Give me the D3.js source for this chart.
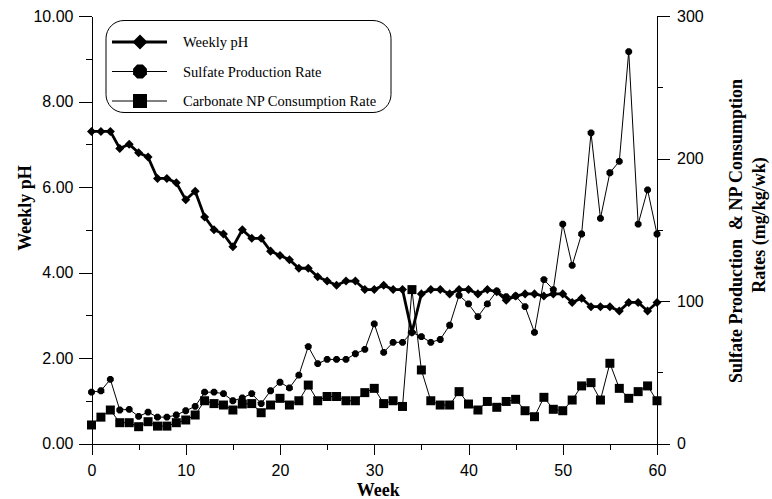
<!DOCTYPE html>
<html>
<head>
<meta charset="utf-8">
<script src="https://cdn.jsdelivr.net/npm/d3@7"></script>
<style>
  body { margin: 0; background: #fff; }
  .tick text { font-family: "Liberation Sans", Arial, sans-serif; font-size: 16px; fill: #000; }
  .axis path, .axis line { stroke: #000; shape-rendering: crispEdges; }
  .title { font-family: "Liberation Serif", "Times New Roman", serif; font-weight: bold; font-size: 18px; }
  .legendText { font-family: "Liberation Serif", "Times New Roman", serif; font-size: 14.5px; }
</style>
</head>
<body>
<div id="chart"></div>
<script>
// week numbers
const weeks = [0,1,2,3,4,5,6,7,8,9,10,11,12,13,14,15,16,17,18,19,20,
  21,22,23,24,25,26,27,28,29,30,31,32,33,34,35,36,37,38,39,40,
  41,42,43,44,45,46,47,48,49,50,51,52,53,54,55,56,57,58,59,60];

// weekly pH (left axis)
const weeklyPH = [7.3,7.3,7.3,6.9,7.0,6.8,6.7,6.2,6.2,6.1,
  5.7,5.9,5.3,5.0,4.9,4.6,5.0,4.8,4.8,4.5,
  4.4,4.3,4.1,4.1,3.9,3.8,3.7,3.8,3.8,3.6,
  3.6,3.7,3.6,3.6,2.6,3.5,3.6,3.6,3.5,3.6,
  3.6,3.5,3.6,3.55,3.35,3.45,3.5,3.5,3.45,3.5,
  3.5,3.3,3.4,3.2,3.2,3.2,3.1,3.3,3.3,3.1,3.3];

// sulfate production rate, mg/kg/wk (right axis)
const sulfateRate = [36,37,45,23.5,24,19,22,18.5,18.5,20,
  23,26,36,36,35,30,32,35,28,37,
  43,39,48,68,56,59,59,59,63,66,
  84,64,71,71,78,75,71,73,83,104,
  98,89,98,107,103,103.5,96,78,115,108,
  154,125,147,218,158,190,198,275,154,178,147];

// carbonate NP consumption rate, mg/kg/wk (right axis)
const npRate = [13,18.5,23.5,14.6,14.6,11.8,15.3,12.2,12.2,14.6,
  16.5,20,30,28,27,23.5,27.7,28,21.6,27,
  31.7,27,30,41,30,33,33,30,30,35.7,
  38.7,28,30,26,108,51.6,30,27,27,36.4,
  27.7,23.5,29.5,25.4,29.5,31,23,18.8,32.4,24,
  23,30.5,40.4,42.7,30.5,56.3,38.7,31.7,36.4,40.4,30];

const phTicks = [0,2,4,6,8,10];
const phMinor = [1,3,5,7,9];
const rateTicks = [0,100,200,300];
const rateMinor = [50,150,250];
const weekTicks = [0,10,20,30,40,50,60];
const weekMinor = [5,15,25,35,45,55];

const legendNames = ["Weekly pH", "Sulfate Production Rate", "Carbonate NP Consumption Rate"];

const W = 772, H = 499;
const margin = { top: 16, right: 115, bottom: 55.5, left: 91.5 };

let svg = d3.select('#chart').append('svg')
  .attr('width', W)
  .attr('height', H);

let x = d3.scaleLinear().domain([0, 60]).range([margin.left, W - margin.right]);
let yL = d3.scaleLinear().domain([0, 10]).range([H - margin.bottom, margin.top]);
let yR = d3.scaleLinear().domain([0, 300]).range([H - margin.bottom, margin.top]);

// axes
svg.append('g').attr('class', 'axis')
  .attr('transform', 'translate(0,' + (H - margin.bottom) + ')')
  .call(d3.axisBottom(x).tickValues(weekTicks).tickSize(11).tickSizeOuter(0).tickPadding(10));
svg.append('g').attr('class', 'axis')
  .attr('transform', 'translate(0,' + (H - margin.bottom) + ')')
  .call(d3.axisBottom(x).tickValues(weekMinor).tickSize(6).tickFormat(''))
  .select('.domain').remove();

svg.append('g').attr('class', 'axis')
  .attr('transform', 'translate(' + margin.left + ',0)')
  .call(d3.axisLeft(yL).tickValues(phTicks).tickSize(13).tickSizeOuter(0).tickPadding(5).tickFormat(d3.format('.2f')));
svg.append('g').attr('class', 'axis')
  .attr('transform', 'translate(' + margin.left + ',0)')
  .call(d3.axisLeft(yL).tickValues(phMinor).tickSize(6).tickFormat(''))
  .select('.domain').remove();

svg.append('g').attr('class', 'axis')
  .attr('transform', 'translate(' + (W - margin.right) + ',0)')
  .call(d3.axisRight(yR).tickValues(rateTicks).tickSize(13).tickSizeOuter(0).tickPadding(7));
svg.append('g').attr('class', 'axis')
  .attr('transform', 'translate(' + (W - margin.right) + ',0)')
  .call(d3.axisRight(yR).tickValues(rateMinor).tickSize(6).tickFormat(''))
  .select('.domain').remove();

// axis titles
svg.append('text').attr('class', 'title')
  .attr('x', x(30) + 4).attr('y', 496)
  .attr('text-anchor', 'middle').text('Week');

svg.append('text').attr('class', 'title')
  .attr('transform', 'translate(31,208) rotate(-90)')
  .attr('text-anchor', 'middle').text('Weekly pH');

svg.append('text').attr('class', 'title')
  .attr('transform', 'translate(742,231) rotate(-90)')
  .attr('text-anchor', 'middle').style('white-space', 'pre')
  .text('Sulfate Production  & NP Consumption');
svg.append('text').attr('class', 'title')
  .attr('transform', 'translate(765,225) rotate(-90)')
  .attr('text-anchor', 'middle').text('Rates (mg/kg/wk)');

// marker shapes
let diamond = (s) => d3.symbol().type(d3.symbolSquare).size(s * s / 2)();
let octagon = (r) => {
  let pts = d3.range(8).map(i => {
    let a = Math.PI / 8 + i * Math.PI / 4;
    return [r * Math.cos(a), r * Math.sin(a)];
  });
  return d3.line()(pts) + 'Z';
};
let square = (s) => d3.symbol().type(d3.symbolSquare).size(s * s)();

let series = [
  { name: legendNames[0], vals: weeklyPH, y: yL, width: 2.8, shape: 'diamond' },
  { name: legendNames[1], vals: sulfateRate, y: yR, width: 1, shape: 'octagon' },
  { name: legendNames[2], vals: npRate, y: yR, width: 1, shape: 'square' }
];

function markerPath(shape, big) {
  if (shape == 'diamond') return diamond(big ? 15 : 9);
  if (shape == 'octagon') return octagon(big ? 7.5 : 3.7);
  return square(big ? 14 : 9);
}

series.forEach((s) => {
  let line = d3.line()
    .x((d, i) => x(weeks[i]))
    .y((d) => s.y(d));
  svg.append('path')
    .datum(s.vals)
    .attr('d', line)
    .attr('fill', 'none')
    .attr('stroke', '#000')
    .attr('stroke-width', s.width)
    .attr('stroke-linejoin', 'miter');
  svg.append('g').selectAll('path')
    .data(s.vals)
    .enter()
    .append('path')
    .attr('d', markerPath(s.shape, false))
    .attr('transform', (d, i) => 'translate(' + x(weeks[i]) + ',' + s.y(d) + ')' + (s.shape == 'diamond' ? ' rotate(45)' : ''))
    .attr('fill', '#000');
});

// legend
let leg = svg.append('g').attr('id', 'legendWrap');
leg.append('rect')
  .attr('x', 106).attr('y', 20.5)
  .attr('width', 285).attr('height', 92)
  .attr('rx', 18).attr('ry', 18)
  .attr('fill', '#fff').attr('stroke', '#000').attr('stroke-width', 1);

let legY = d3.scalePoint().domain(legendNames).range([42, 101]);
series.forEach((s) => {
  let yy = legY(s.name);
  leg.append('line')
    .attr('x1', 112).attr('x2', 167)
    .attr('y1', yy).attr('y2', yy)
    .attr('stroke', '#000').attr('stroke-width', s.width);
  leg.append('path')
    .attr('d', markerPath(s.shape, true))
    .attr('transform', 'translate(140,' + yy + ')' + (s.shape == 'diamond' ? ' rotate(45)' : ''))
    .attr('fill', '#000');
  leg.append('text')
    .attr('class', 'legendText')
    .attr('x', 183).attr('y', yy).attr('dy', '0.35em')
    .text(s.name);
});
</script>
</body>
</html>
